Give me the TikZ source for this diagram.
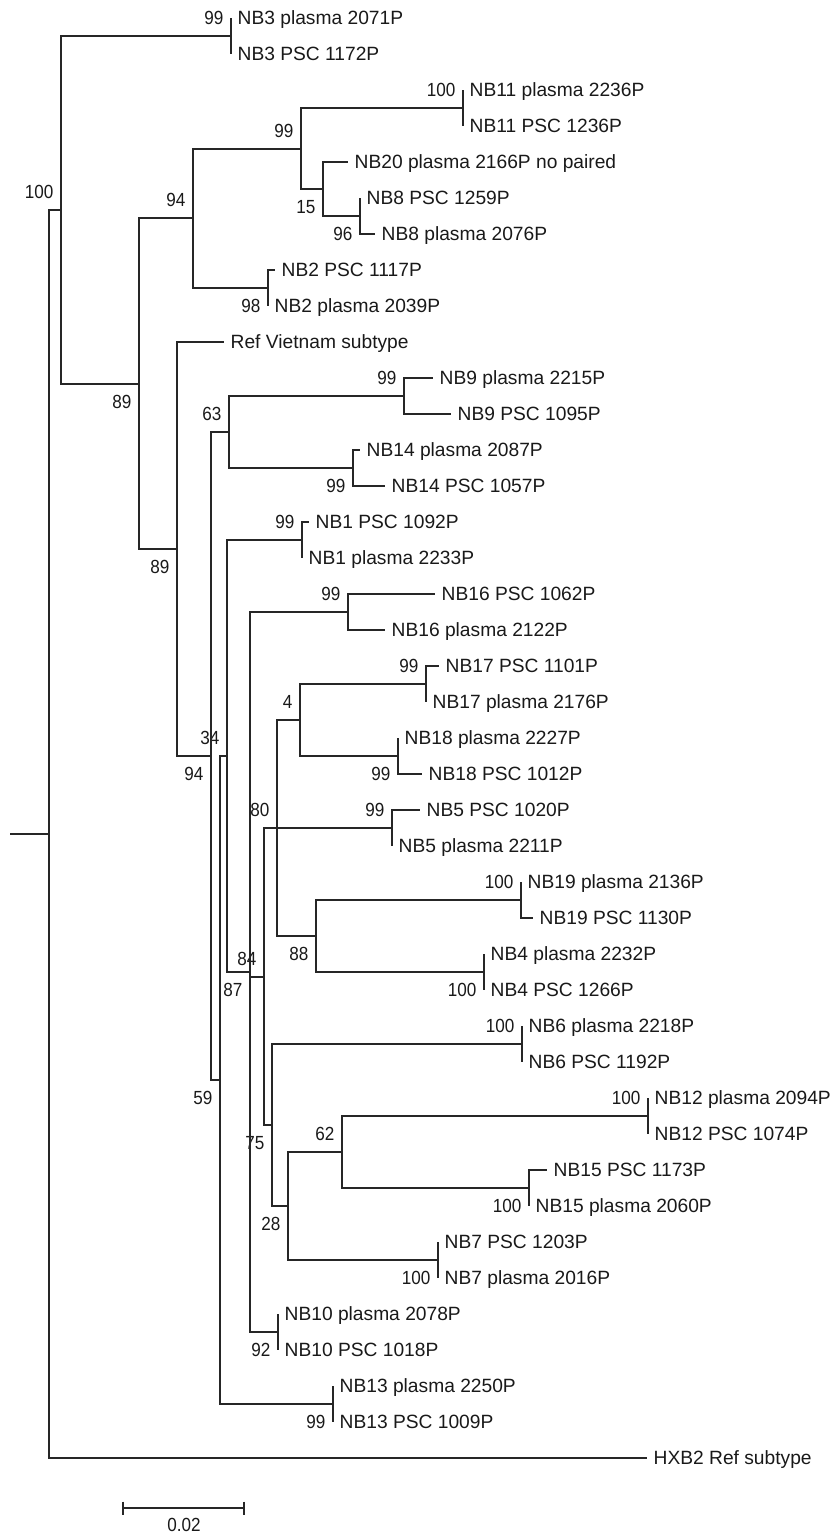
\documentclass[tikz,border=0pt]{standalone}
\usepackage{fontspec}
\setmainfont{Liberation Sans}
\newfontfamily\bootfont[FakeStretch=0.9]{Liberation Sans}
\usepackage{tikz}

\begin{document}
\begin{tikzpicture}[
    x=0.5pt, y=-0.5pt,
    line width=0.7pt,
    draw=black!85,
    leaf/.style={anchor=west, inner xsep=3pt, inner ysep=0pt, text=black!90,
                 text height=6.9pt, text depth=0pt, font=\fontsize{9.6}{11}\selectfont},
    boot/.style={inner xsep=3.5pt, inner ysep=5.3pt, text=black!90,
                 text height=6.8pt, text depth=0pt, font=\bootfont\fontsize{9.5}{11}\selectfont},
    bu/.style={boot, anchor=south east},
    bd/.style={boot, anchor=north east}
]
  \useasboundingbox (0,0) rectangle (833,1535);

  % leaves
  \node[leaf] (P3)  at (231,18)   {NB3 plasma 2071P};
  \node[leaf] (S3)  at (231,54)   {NB3 PSC 1172P};
  \node[leaf] (P11) at (463,90)   {NB11 plasma 2236P};
  \node[leaf] (S11) at (463,126)  {NB11 PSC 1236P};
  \node[leaf] (P20) at (348,162)  {NB20 plasma 2166P no paired};
  \node[leaf] (S8)  at (360,198)  {NB8 PSC 1259P};
  \node[leaf] (P8)  at (375,234)  {NB8 plasma 2076P};
  \node[leaf] (S2)  at (275,270)  {NB2 PSC 1117P};
  \node[leaf] (P2)  at (268,306)  {NB2 plasma 2039P};
  \node[leaf] (RV)  at (224,342)  {Ref Vietnam subtype};
  \node[leaf] (P9)  at (433,378)  {NB9 plasma 2215P};
  \node[leaf] (S9)  at (451,414)  {NB9 PSC 1095P};
  \node[leaf] (P14) at (360,450)  {NB14 plasma 2087P};
  \node[leaf] (S14) at (385,486)  {NB14 PSC 1057P};
  \node[leaf] (S1)  at (309,522)  {NB1 PSC 1092P};
  \node[leaf] (P1)  at (302,558)  {NB1 plasma 2233P};
  \node[leaf] (S16) at (435,594)  {NB16 PSC 1062P};
  \node[leaf] (P16) at (385,630)  {NB16 plasma 2122P};
  \node[leaf] (S17) at (439,666)  {NB17 PSC 1101P};
  \node[leaf] (P17) at (426,702)  {NB17 plasma 2176P};
  \node[leaf] (P18) at (398,738)  {NB18 plasma 2227P};
  \node[leaf] (S18) at (422,774)  {NB18 PSC 1012P};
  \node[leaf] (S5)  at (420,810)  {NB5 PSC 1020P};
  \node[leaf] (P5)  at (392,846)  {NB5 plasma 2211P};
  \node[leaf] (P19) at (521,882)  {NB19 plasma 2136P};
  \node[leaf] (S19) at (533,918)  {NB19 PSC 1130P};
  \node[leaf] (P4)  at (484,954)  {NB4 plasma 2232P};
  \node[leaf] (S4)  at (484,990)  {NB4 PSC 1266P};
  \node[leaf] (P6)  at (522,1026) {NB6 plasma 2218P};
  \node[leaf] (S6)  at (522,1062) {NB6 PSC 1192P};
  \node[leaf] (P12) at (648,1098) {NB12 plasma 2094P};
  \node[leaf] (S12) at (648,1134) {NB12 PSC 1074P};
  \node[leaf] (S15) at (547,1170) {NB15 PSC 1173P};
  \node[leaf] (P15) at (529,1206) {NB15 plasma 2060P};
  \node[leaf] (S7)  at (438,1242) {NB7 PSC 1203P};
  \node[leaf] (P7)  at (438,1278) {NB7 plasma 2016P};
  \node[leaf] (P10) at (278,1314) {NB10 plasma 2078P};
  \node[leaf] (S10) at (278,1350) {NB10 PSC 1018P};
  \node[leaf] (P13) at (333,1386) {NB13 plasma 2250P};
  \node[leaf] (S13) at (333,1422) {NB13 PSC 1009P};
  \node[leaf] (HX)  at (647,1458) {HXB2 Ref subtype};

  % pair nodes
  \coordinate (N3)  at (231,36);
  \coordinate (N11) at (463,108);
  \coordinate (N8)  at (360,216);
  \coordinate (N2)  at (268,288);
  \coordinate (N9)  at (404,396);
  \coordinate (N14) at (353,468);
  \coordinate (N1)  at (302,540);
  \coordinate (N16) at (348,612);
  \coordinate (N17) at (426,684);
  \coordinate (N18) at (398,756);
  \coordinate (N5)  at (392,828);
  \coordinate (N19) at (521,900);
  \coordinate (N4)  at (484,972);
  \coordinate (N6)  at (522,1044);
  \coordinate (N12) at (648,1116);
  \coordinate (N15) at (529,1188);
  \coordinate (N7)  at (438,1260);
  \coordinate (N10) at (278,1332);
  \coordinate (N13) at (333,1404);

  % inner nodes
  \coordinate (E) at (323,189);
  \coordinate (D) at (301,149);
  \coordinate (C) at (193,218);
  \coordinate (H) at (229,432);
  \coordinate (Q) at (300,720);
  \coordinate (O) at (316,936);
  \coordinate (M) at (277,828);
  \coordinate (V) at (342,1152);
  \coordinate (U) at (288,1206);
  \coordinate (T) at (272,1125);
  \coordinate (L) at (264,977);
  \coordinate (K) at (250,972);
  \coordinate (J) at (227,756);
  \coordinate (I) at (220,1080);
  \coordinate (G) at (211,756);
  \coordinate (F) at (177,549);
  \coordinate (B) at (139,384);
  \coordinate (A) at (61,210);
  \coordinate (R) at (49,834);
  \coordinate (R0) at (10,834);

  % bootstrap values
  \node[bu] (b3)  at (N3)  {99};
  \node[bu] (b11) at (N11) {100};
  \node[bd] (b8)  at (N8)  {96};
  \node[bd] (b2)  at (N2)  {98};
  \node[bu] (b9)  at (N9)  {99};
  \node[bd] (b14) at (N14) {99};
  \node[bu] (b1)  at (N1)  {99};
  \node[bu] (b16) at (N16) {99};
  \node[bu] (b17) at (N17) {99};
  \node[bd] (b18) at (N18) {99};
  \node[bu] (b5)  at (N5)  {99};
  \node[bu] (b19) at (N19) {100};
  \node[bd] (b4)  at (N4)  {100};
  \node[bu] (b6)  at (N6)  {100};
  \node[bu] (b12) at (N12) {100};
  \node[bd] (b15) at (N15) {100};
  \node[bd] (b7)  at (N7)  {100};
  \node[bd] (b10) at (N10) {92};
  \node[bd] (b13) at (N13) {99};
  \node[bd] (bE) at (E) {15};
  \node[bu] (bD) at (D) {99};
  \node[bu] (bC) at (C) {94};
  \node[bu] (bH) at (H) {63};
  \node[bu] (bQ) at (Q) {4};
  \node[bd] (bO) at (O) {88};
  \node[bu] (bM) at (M) {80};
  \node[bu] (bV) at (V) {62};
  \node[bd] (bU) at (U) {28};
  \node[bd] (bT) at (T) {75};
  \node[bu] (bL) at (L) {84};
  \node[bd] (bK) at (K) {87};
  \node[bu] (bJ) at (J) {34};
  \node[bd] (bI) at (I) {59};
  \node[bd] (bG) at (G) {94};
  \node[bd] (bF) at (F) {89};
  \node[bd] (bB) at (B) {89};
  \node[bu] (bA) at (A) {100};

  % edges to leaves
  \draw (N3) |- (P3.west);   \draw (N3) |- (S3.west);
  \draw (N11) |- (P11.west); \draw (N11) |- (S11.west);
  \draw (N8) |- (P8.west);   \draw (N8) |- (S8.west);
  \draw (N2) |- (P2.west);   \draw (N2) |- (S2.west);
  \draw (N9) |- (P9.west);   \draw (N9) |- (S9.west);
  \draw (N14) |- (P14.west); \draw (N14) |- (S14.west);
  \draw (N1) |- (P1.west);   \draw (N1) |- (S1.west);
  \draw (N16) |- (P16.west); \draw (N16) |- (S16.west);
  \draw (N17) |- (P17.west); \draw (N17) |- (S17.west);
  \draw (N18) |- (P18.west); \draw (N18) |- (S18.west);
  \draw (N5) |- (P5.west);   \draw (N5) |- (S5.west);
  \draw (N19) |- (P19.west); \draw (N19) |- (S19.west);
  \draw (N4) |- (P4.west);   \draw (N4) |- (S4.west);
  \draw (N6) |- (P6.west);   \draw (N6) |- (S6.west);
  \draw (N12) |- (P12.west); \draw (N12) |- (S12.west);
  \draw (N15) |- (P15.west); \draw (N15) |- (S15.west);
  \draw (N7) |- (P7.west);   \draw (N7) |- (S7.west);
  \draw (N10) |- (P10.west); \draw (N10) |- (S10.west);
  \draw (N13) |- (P13.west); \draw (N13) |- (S13.west);

  % inner edges
  \draw (E) |- (P20.west); \draw (E) |- (N8);
  \draw (D) |- (N11); \draw (D) |- (E);
  \draw (C) |- (D);   \draw (C) |- (N2);
  \draw (B) |- (C);   \draw (B) |- (F);
  \draw (A) |- (N3);  \draw (A) |- (B);
  \draw (R) |- (A);   \draw (R) |- (HX.west);
  \draw (R0) -- (R);
  \draw (F) |- (RV.west); \draw (F) |- (G);
  \draw (G) |- (H);   \draw (G) |- (I);
  \draw (H) |- (N9);  \draw (H) |- (N14);
  \draw (I) |- (J);   \draw (I) |- (N13);
  \draw (J) |- (N1);  \draw (J) |- (K);
  \draw (K) |- (N16); \draw (K) |- (L); \draw (K) |- (N10);
  \draw (L) |- (M);   \draw (L) |- (T);
  \draw (M) |- (Q);   \draw (M) |- (N5); \draw (M) |- (O);
  \draw (Q) |- (N17); \draw (Q) |- (N18);
  \draw (O) |- (N19); \draw (O) |- (N4);
  \draw (T) |- (N6);  \draw (T) |- (U);
  \draw (U) |- (V);   \draw (U) |- (N7);
  \draw (V) |- (N12); \draw (V) |- (N15);

  % scale bar
  \coordinate (s0) at (123,1508);
  \coordinate (s1) at (244,1508);
  \draw (s0) -- (s1);
  \draw (s0) ++(0,-6.5) -- ++(0,13);
  \draw (s1) ++(0,-6.5) -- ++(0,13);
  \node[boot, inner sep=0pt] (sl) at (184,1525) {0.02};
\end{tikzpicture}
\end{document}
